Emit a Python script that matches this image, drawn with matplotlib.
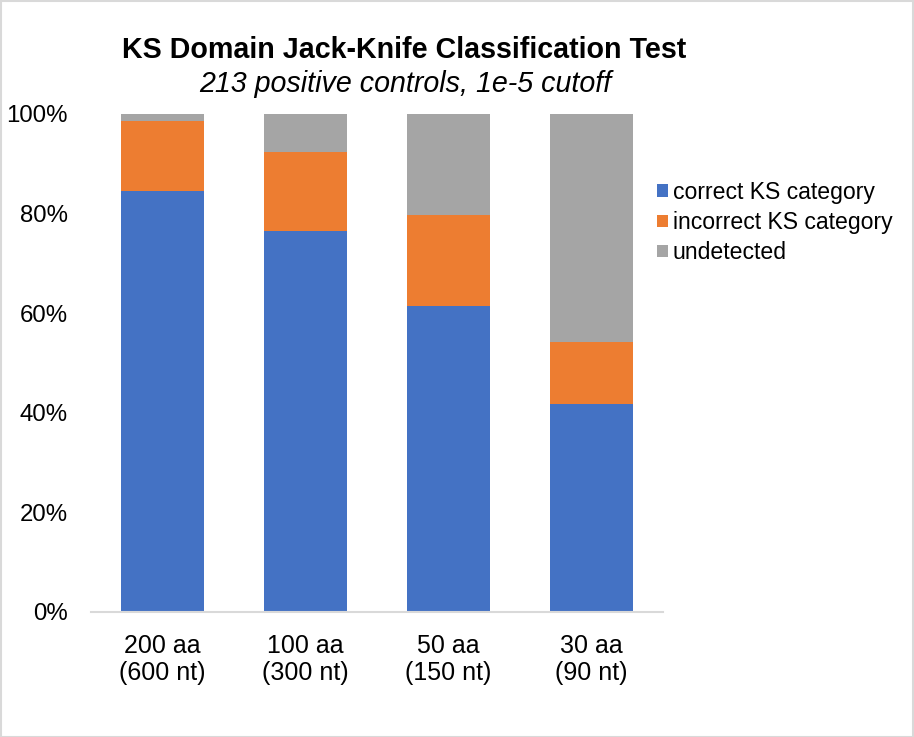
import matplotlib
matplotlib.use("Agg")
import matplotlib.pyplot as plt
from matplotlib.patches import Rectangle
from matplotlib.ticker import PercentFormatter

categories = ["200 aa\n(600 nt)", "100 aa\n(300 nt)", "50 aa\n(150 nt)", "30 aa\n(90 nt)"]
correct = [84.5, 76.5, 61.5, 41.7]
incorrect = [14.0, 15.9, 18.2, 12.6]
undetected = [1.5, 7.6, 20.3, 45.7]
series_names = ["correct KS category", "incorrect KS category", "undetected"]
colors = ["#4472C4", "#ED7D31", "#A5A5A5"]

plt.rcParams['font.family'] = ['Liberation Sans', 'DejaVu Sans']

W, H = 914, 737
fig = plt.figure(figsize=(W / 100, H / 100), dpi=100)
ax = fig.add_axes([91 / W, 125 / H, 572 / W, 498 / H])

x = list(range(len(categories)))
bw = 0.575
bottoms2 = correct
bottoms3 = [a + b for a, b in zip(correct, incorrect)]
ax.bar(x, correct, bw, color=colors[0], label=series_names[0])
ax.bar(x, incorrect, bw, bottom=bottoms2, color=colors[1], label=series_names[1])
ax.bar(x, undetected, bw, bottom=bottoms3, color=colors[2], label=series_names[2])

ax.set_xlim(-0.5, len(categories) - 0.5)
ax.set_ylim(0, 100)
ax.set_yticks([0, 20, 40, 60, 80, 100])
ax.yaxis.set_major_formatter(PercentFormatter(decimals=0))
ax.set_xticks(x)
ax.set_xticklabels(categories, linespacing=1.2)
for s in ["top", "right", "left"]:
    ax.spines[s].set_visible(False)
ax.spines["bottom"].set_color("#D9D9D9")
ax.spines["bottom"].set_linewidth(1.5)
ax.tick_params(axis="y", length=0, pad=16.5, labelsize=17.3, labelcolor="#000000")
ax.tick_params(axis="x", length=0, pad=15.5, labelsize=18, labelcolor="#000000")

fig.text(404 / W, 1 - 57.5 / H, "KS Domain Jack-Knife Classification Test",
         ha="center", va="baseline", fontsize=20.6, fontweight="bold")
fig.text(405 / W, 1 - 91.5 / H, "213 positive controls, 1e-5 cutoff",
         ha="center", va="baseline", fontsize=20.6, style="italic")

fig.legend(loc="upper left", bbox_to_anchor=(657 / W, 1 - 181 / H),
           frameon=False, fontsize=16.6, handlelength=0.47, handleheight=0.47,
           handletextpad=0.22, labelspacing=0.31, borderpad=0, borderaxespad=0)

fig.patches.append(Rectangle((0.5 / W, 0.5 / H), 1 - 1.5 / W, 1 - 1.5 / H,
                             transform=fig.transFigure, fill=False,
                             edgecolor="#D9D9D9", linewidth=1.5))

fig.savefig("out.png", dpi=100, facecolor="white")
